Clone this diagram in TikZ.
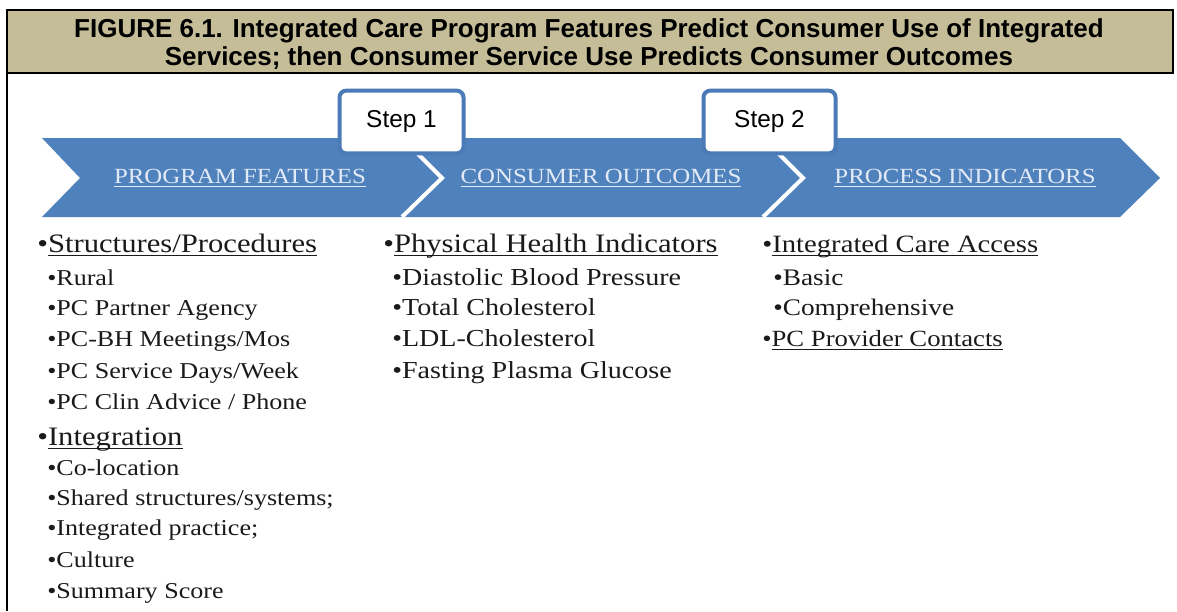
\documentclass[tikz,border=0pt]{standalone}
\usepackage{fontspec}
\setmainfont{Liberation Serif}
\newfontfamily\arialf{Liberation Sans}
\newfontfamily\camf[FakeStretch=1.15]{Liberation Serif}
\definecolor{bandblue}{HTML}{4F81BD}
\definecolor{tabblue}{HTML}{4A7BB7}
\definecolor{titletan}{HTML}{C4BD97}
\definecolor{hdrtxt}{HTML}{E2EAF5}
\definecolor{itemtxt}{HTML}{1A1A1A}
\newcommand\myul[1]{\leavevmode\setbox0=\hbox{#1}\rlap{\rule[-3pt]{\wd0}{0.9pt}}\box0}
\tikzset{
  ttl/.style={font=\arialf\bfseries\fontsize{19.5}{24}\selectfont, anchor=base, inner sep=0pt},
  stepbox/.style={draw=tabblue, line width=3pt, fill=white, rounded corners=5pt,
    minimum height=47pt, inner sep=0pt,
    font=\arialf\fontsize{18.3}{21}\selectfont},
  hdr/.style={font=\camf\fontsize{16.2}{19}\selectfont, text=hdrtxt, anchor=base, inner sep=0pt},
  item/.style={font=\camf\fontsize{18.3}{22}\selectfont, anchor=base west, inner sep=0pt, text=itemtxt},
  itemA/.style={item, font=\camf\fontsize{17}{21}\selectfont},
  headA/.style={item, font=\camf\fontsize{20}{24}\selectfont},
  itemC/.style={item, font=\camf\fontsize{17.8}{21}\selectfont},
  headC/.style={item, font=\camf\fontsize{18.7}{22}\selectfont},
  chev/.style={draw=white, line width=3pt},
  frame/.style={draw=black, line width=2pt},
}
\begin{document}
\begin{tikzpicture}[x=0.75pt, y=-0.75pt]
\useasboundingbox (0,0) rectangle (1177,611);
% title bar
\draw[frame, fill=titletan] (7,10) rectangle (1173,73);
\node[ttl] (t1) at (589,37) {FIGURE 6.1. Integrated Care Program Features Predict Consumer Use of Integrated};
\node[ttl] (t2) at (589,65) {Services; then Consumer Service Use Predicts Consumer Outcomes};
\draw[frame] (7,73) -- (7,611);
% band
\fill[bandblue] (42,138) -- (1120,138) -- (1160,178) -- (1120,217) -- (42,217) -- (80,178) -- cycle;
\draw[chev] (402,138) -- (442,178) -- (402,217);
\draw[chev] (763,138) -- (803,178) -- (763,217);
% tabs
\node[stepbox, minimum width=93pt] (s1) at (401.5,122) {Step 1};
\node[stepbox, minimum width=99pt] (s2) at (769.5,122) {Step 2};
% headers
\node[hdr] (h1) at (240,183) {\myul{PROGRAM FEATURES}};
\node[hdr] (h2) at (601,183) {\myul{CONSUMER OUTCOMES}};
\node[hdr] (h3) at (965,183) {\myul{PROCESS INDICATORS}};
% column 1
\node[headA] (a0) at (37,252) {•\myul{Structures/Procedures}};
\node[itemA] (a1) at (47,285) {•Rural};
\node[itemA] (a2) at (47,315) {•PC Partner Agency};
\node[itemA] (a3) at (47,346) {•PC-BH Meetings/Mos};
\node[itemA] (a4) at (47,378) {•PC Service Days/Week};
\node[itemA] (a5) at (47,409) {•PC Clin Advice / Phone};
\node[headA] (b0) at (37,445) {•\myul{Integration}};
\node[itemA] (b1) at (47,475) {•Co-location};
\node[itemA] (b2) at (47,505) {•Shared structures/systems;};
\node[itemA] (b3) at (47,535) {•Integrated practice;};
\node[itemA] (b4) at (47,567) {•Culture};
\node[itemA] (b5) at (47,598) {•Summary Score};
% column 2
\node[headA] (c0) at (383,252) {•\myul{Physical Health Indicators}};
\node[item] (c1) at (392,285) {•Diastolic Blood Pressure};
\node[item] (c2) at (392,315) {•Total Cholesterol};
\node[item] (c3) at (392,346) {•LDL-Cholesterol};
\node[item] (c4) at (392,378) {•Fasting Plasma Glucose};
% column 3
\node[headC] (d0) at (762,252) {•\myul{Integrated Care Access}};
\node[itemC] (d1) at (773,285) {•Basic};
\node[itemC] (d2) at (773,315) {•Comprehensive};
\node[headC, font=\camf\fontsize{17.4}{21}\selectfont] (d3) at (762,346) {•\myul{PC Provider Contacts}};
\end{tikzpicture}
\end{document}
